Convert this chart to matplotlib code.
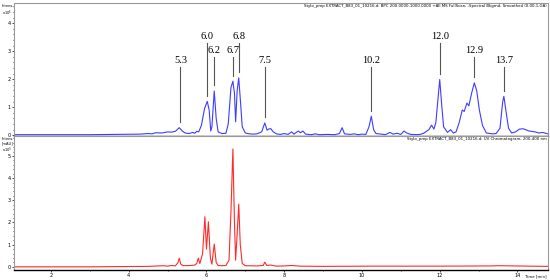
import matplotlib.pyplot as plt
from matplotlib.ticker import MultipleLocator

# BPC trace (top), intensity x10^5
bpc_t = [1.05, 2.0, 3.0, 3.8, 4.0, 4.3, 4.5, 4.6, 4.7, 4.85, 5.0, 5.1, 5.2, 5.3, 5.38,
         5.45, 5.55, 5.65, 5.7, 5.75, 5.8, 5.87, 5.95, 6.02, 6.07, 6.11, 6.14, 6.2, 6.25,
         6.3, 6.4, 6.5, 6.56, 6.63, 6.68, 6.72, 6.75, 6.79, 6.83, 6.87, 6.92, 7.0, 7.1,
         7.2, 7.3, 7.42, 7.5, 7.56, 7.6, 7.65, 7.72, 7.8, 7.9, 8.0, 8.1, 8.19, 8.25, 8.36,
         8.42, 8.48, 8.55, 8.7, 8.8, 8.9, 9.1, 9.3, 9.42, 9.49, 9.55, 9.7, 9.8, 9.9, 10.0,
         10.1, 10.18, 10.24, 10.3, 10.36, 10.5, 10.6, 10.72, 10.8, 10.9, 11.0, 11.08, 11.15,
         11.25, 11.4, 11.5, 11.6, 11.72, 11.79, 11.85, 11.9, 11.96, 12.0, 12.05, 12.1, 12.2,
         12.28, 12.35, 12.42, 12.5, 12.58, 12.63, 12.7, 12.75, 12.82, 12.89, 12.95, 13.02,
         13.1, 13.2, 13.35, 13.45, 13.55, 13.62, 13.65, 13.7, 13.77, 13.85, 13.95, 14.05,
         14.15, 14.3, 14.45, 14.55, 14.65, 14.78]
bpc_i = [0.02, 0.02, 0.02, 0.03, 0.03, 0.04, 0.06, 0.05, 0.09, 0.08, 0.12, 0.11, 0.14, 0.27, 0.15,
         0.08, 0.06, 0.1, 0.07, 0.14, 0.12, 0.35, 0.95, 1.21, 0.9, 0.15, 0.3, 1.58, 0.6,
         0.12, 0.06, 0.07, 0.4, 1.7, 1.93, 1.5, 0.48, 1.6, 2.05, 1.3, 0.3, 0.08, 0.05,
         0.04, 0.05, 0.12, 0.44, 0.18, 0.22, 0.24, 0.12, 0.05, 0.03, 0.06, 0.03, 0.12, 0.04, 0.15,
         0.09, 0.15, 0.04, 0.02, 0.05, 0.02, 0.03, 0.02, 0.06, 0.27, 0.05, 0.03, 0.05, 0.02, 0.04,
         0.03, 0.3, 0.68, 0.2, 0.06, 0.04, 0.02, 0.1, 0.04, 0.07, 0.03, 0.15, 0.08,
         0.03, 0.02, 0.03, 0.08, 0.2, 0.36, 0.22, 0.45, 1.4, 1.99, 1.1, 0.3, 0.1,
         0.2, 0.08, 0.12, 0.45, 0.9, 0.85, 1.15, 1.05, 1.5, 1.87, 1.6, 0.9,
         0.35, 0.08, 0.05, 0.06, 0.25, 1.2, 1.39, 0.9, 0.25, 0.08, 0.12, 0.22,
         0.23, 0.15, 0.12, 0.08, 0.1, 0.05]

# UV trace (bottom), mAU x10^3
uv_t = [1.05, 3.0, 4.5, 4.9, 5.0, 5.1, 5.2, 5.27, 5.3, 5.34, 5.4, 5.6, 5.7, 5.75, 5.79, 5.83,
        5.9, 5.96, 6.0, 6.05, 6.1, 6.14, 6.2, 6.25, 6.3, 6.4, 6.5, 6.58, 6.63, 6.68, 6.72,
        6.75, 6.79, 6.83, 6.87, 6.92, 7.0, 7.3, 7.46, 7.5, 7.55, 7.65, 7.8, 8.0, 8.2, 8.4,
        9.0, 10.2, 12.0, 13.3, 13.5, 14.78]
uv_i = [0.0, 0.0, 0.02, 0.05, 0.03, 0.06, 0.04, 0.2, 0.39, 0.12, 0.05, 0.06, 0.08, 0.15, 0.39, 0.15,
        0.6, 2.26, 0.8, 2.03, 0.4, 0.12, 1.03, 0.2, 0.06, 0.05, 0.06, 0.3, 2.5, 5.32, 2.0,
        0.3, 1.5, 2.83, 1.0, 0.15, 0.05, 0.04, 0.06, 0.21, 0.06, 0.08, 0.03, 0.04, 0.06, 0.03,
        0.02, 0.03, 0.03, 0.04, 0.05, 0.02]

# annotated peaks: label, time, peak height, text level
peak_labels = ['5.3', '6.0', '6.2', '6.7', '6.8', '7.5', '10.2', '12.0', '12.9', '13.7']
peak_t = [5.33, 6.02, 6.2, 6.68, 6.83, 7.5, 10.24, 12.0, 12.89, 13.65]
peak_h = [0.27, 1.21, 1.58, 1.93, 2.05, 0.44, 0.68, 1.99, 1.87, 1.39]
label_y = [2.43, 3.29, 2.79, 2.79, 3.29, 2.43, 2.43, 3.29, 2.79, 2.43]

fig = plt.figure(figsize=(5.5, 2.8), dpi=100)
ax1 = fig.add_axes([0.0255, 0.514, 0.9705, 0.475])
ax2 = fig.add_axes([0.0255, 0.036, 0.9705, 0.478])

ax1.plot(bpc_t, bpc_i, color='#3d3dff', lw=0.8)
ax2.plot(uv_t, uv_i, color='#ff2a2a', lw=0.8)

for lab, t, h, ly in zip(peak_labels, peak_t, peak_h, label_y):
    ax1.plot([t, t], [h + 0.2, ly], color='#555555', lw=0.8)
    ax1.text(t, ly + 0.08, lab, ha='center', va='bottom', fontsize=7.5,
             family='Liberation Serif')

for ax in (ax1, ax2):
    ax.set_xlim(1.05, 14.78)
    ax.xaxis.set_major_locator(MultipleLocator(2))
    ax.xaxis.set_minor_locator(MultipleLocator(1))
    ax.yaxis.set_major_locator(MultipleLocator(1))
    ax.yaxis.set_minor_locator(MultipleLocator(0.2))
    ax.tick_params(which='both', labelsize=3.5, length=1.5, width=0.5, pad=1)
    ax.tick_params(which='minor', length=1)
    for s in ('top', 'right', 'left'):
        ax.spines[s].set_color('#999999')
        ax.spines[s].set_linewidth(0.8)
    ax.spines['bottom'].set_color('black')
    ax.spines['bottom'].set_linewidth(1.0)

ax1.set_ylim(-0.03, 4.72)
ax1.tick_params(axis='x', labelbottom=False)
ax2.set_ylim(-0.14, 5.9)

ax1.text(0.998, 0.995, 'Stylo_prep EXTRACT_B83_01_10216.d: BPC 200.0000-1000.0000 +All MS FullScan, '
         '-Spectral Bkgrnd, Smoothed (0.00,1,GA)', transform=ax1.transAxes, ha='right', va='top',
         fontsize=2.8)
ax2.text(0.998, 0.995, 'Stylo_prep EXTRACT_B83_01_10216.d: UV Chromatogram, 200-400 nm',
         transform=ax2.transAxes, ha='right', va='top', fontsize=2.8)

fig.text(0.003, 0.985, 'Intens.\nx10$^5$', fontsize=2.6, va='top', ha='left', linespacing=1.1)
fig.text(0.003, 0.51, 'Intens.\n[mAU]\nx10$^3$', fontsize=2.6, va='top', ha='left', linespacing=1.1)
fig.text(0.993, 0.014, 'Time [min]', fontsize=2.8, ha='right', va='center')

fig.savefig('out.png', dpi=100)
